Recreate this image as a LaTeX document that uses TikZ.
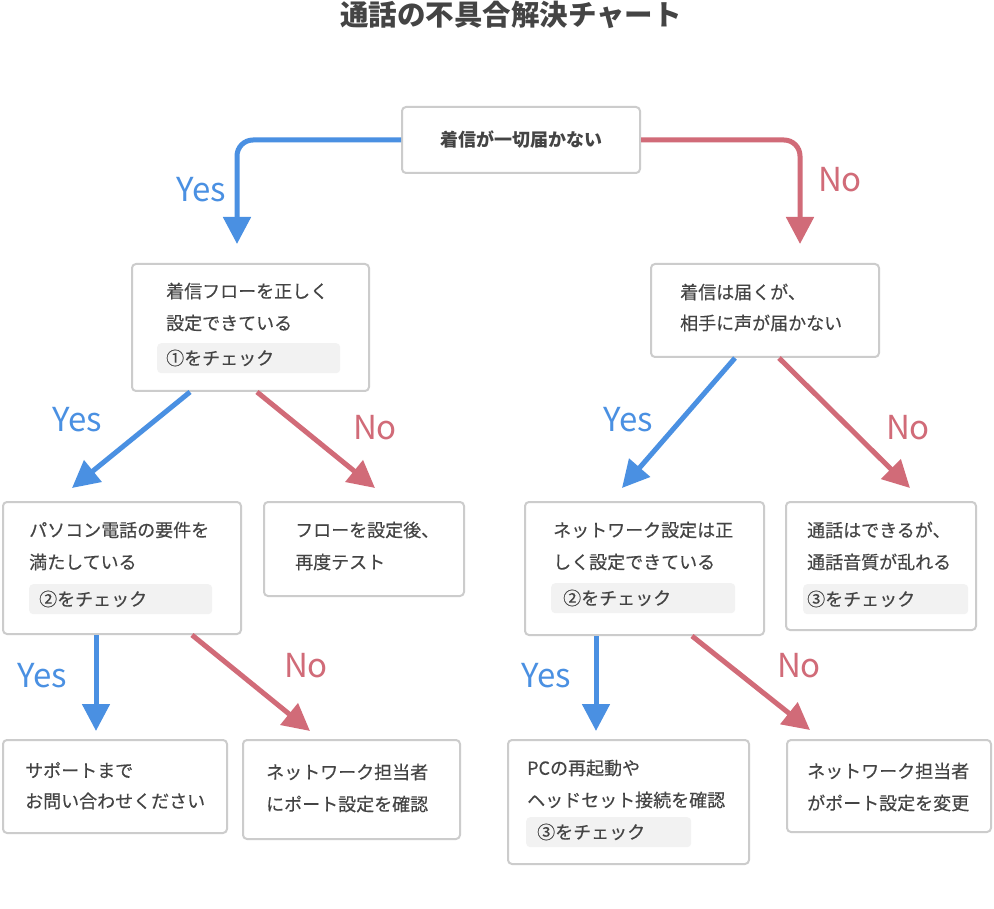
\documentclass[tikz,border=0pt]{standalone}
\usepackage{fontspec}
\setmainfont{Noto Sans CJK JP}
\newfontfamily\medfont{Noto Sans CJK JP}[FakeBold=0.35]
\usetikzlibrary{arrows.meta,calc}
\definecolor{yesc}{HTML}{4A90E2}
\definecolor{noc}{HTML}{D16B78}
\definecolor{txt}{HTML}{444444}
\definecolor{bd}{HTML}{CCCCCC}
\definecolor{chk}{HTML}{F2F2F2}
\begin{document}
\begin{tikzpicture}[x=1pt,y=-1pt,
  box/.style={draw=bd,line width=2pt,rounded corners=4pt,fill=white,inner sep=0,anchor=north west},
  chkbox/.style={fill=chk,rounded corners=4pt,inner sep=0,anchor=north west},
  tx/.style={text=txt,font=\medfont\fontsize{18}{20}\selectfont,anchor=west,inner sep=0},
  yesarr/.style={draw=yesc,line width=5pt,-{Triangle[length=27pt,width=27pt]}},
  noarr/.style={draw=noc,line width=5pt,-{Triangle[length=27pt,width=27pt]}},
  yeslab/.style={text=yesc,font=\fontsize{33}{36}\selectfont,inner sep=0},
  nolab/.style={text=noc,font=\fontsize{33}{36}\selectfont,inner sep=0}]
\useasboundingbox[fill=white] (0,0) rectangle (994,909);
% title
\node[text=txt,font=\fontsize{28.5}{32}\selectfont\bfseries,inner sep=0] (title) at (511,15) {通話の不具合解決チャート};
% boxes
\node[box,minimum width=238pt,minimum height=66pt] (top) at (401,106) {};
\node[box,minimum width=237pt,minimum height=127pt] (A) at (131,263) {};
\node[box,minimum width=228pt,minimum height=93pt] (B) at (650,263) {};
\node[box,minimum width=238pt,minimum height=132pt] (C) at (2,501) {};
\node[box,minimum width=200pt,minimum height=94pt] (D) at (263,501) {};
\node[box,minimum width=239pt,minimum height=133pt] (E) at (524,501) {};
\node[box,minimum width=190pt,minimum height=128pt] (F) at (785,501) {};
\node[box,minimum width=224pt,minimum height=93pt] (G) at (2,739) {};
\node[box,minimum width=217pt,minimum height=99pt] (H) at (242,739) {};
\node[box,minimum width=241pt,minimum height=124pt] (I) at (507,739) {};
\node[box,minimum width=204pt,minimum height=92pt] (J) at (786,739) {};
% check boxes
\node[chkbox,minimum width=183pt,minimum height=30pt] (Ac) at (157,343) {};
\node[chkbox,minimum width=183pt,minimum height=30pt] (Cc) at (29,584) {};
\node[chkbox,minimum width=184pt,minimum height=30pt] (Ec) at (551,583) {};
\node[chkbox,minimum width=165pt,minimum height=30pt] (Fc) at (803,584) {};
\node[chkbox,minimum width=165pt,minimum height=30pt] (Ic) at (526,817) {};
% texts
\node[tx,anchor=center,font=\fontsize{18}{20}\selectfont\bfseries] (t0) at (top.center) {着信が一切届かない};
\node[tx] (a1) at (166,291) {着信フローを正しく};
\node[tx] (a2) at (166,323) {設定できている};
\node[tx] (a3) at (166,358) {①をチェック};
\node[tx] (b1) at (680,292) {着信は届くが、};
\node[tx] (b2) at (680,323) {相手に声が届かない};
\node[tx] (c1) at (29,530) {パソコン電話の要件を};
\node[tx] (c2) at (29,562) {満たしている};
\node[tx] (c3) at (39,599) {②をチェック};
\node[tx] (d1) at (295,530) {フローを設定後、};
\node[tx] (d2) at (295,562) {再度テスト};
\node[tx] (e1) at (553,530) {ネットワーク設定は正};
\node[tx] (e2) at (553,562) {しく設定できている};
\node[tx] (e3) at (563,598) {②をチェック};
\node[tx] (f1) at (807,530) {通話はできるが、};
\node[tx] (f2) at (807,562) {通話音質が乱れる};
\node[tx] (f3) at (807,599) {③をチェック};
\node[tx] (g1) at (25,770) {サポートまで};
\node[tx] (g2) at (25,801) {お問い合わせください};
\node[tx] (h1) at (266,772) {ネットワーク担当者};
\node[tx] (h2) at (266,804) {にポート設定を確認};
\node[tx] (i1) at (527,768) {PCの再起動や};
\node[tx] (i2) at (527,800) {ヘッドセット接続を確認};
\node[tx] (i3) at (537,832) {③をチェック};
\node[tx] (j1) at (807,771) {ネットワーク担当者};
\node[tx] (j2) at (807,803) {がポート設定を変更};
% arrow tips
\coordinate (tYes0) at (237,244);
\coordinate (tNo0) at (800,244);
\coordinate (tAC) at (72,488);
\coordinate (tAD) at (375,488);
\coordinate (tCG) at (96,731);
\coordinate (tCH) at (310,731);
\coordinate (tBE) at (622,488);
\coordinate (tBF) at (910,488);
\coordinate (tEI) at (596,731);
\coordinate (tEJ) at (810,730);
% connectors
\draw[yesarr,rounded corners=16pt] (top.west) -- (tYes0 |- top.west) -- (tYes0);
\draw[noarr,rounded corners=16pt] (top.east) -- (tNo0 |- top.east) -- (tNo0);
\draw[yesarr] ([xshift=59pt]A.south west) -- (tAC);
\draw[noarr] ([xshift=126pt]A.south west) -- (tAD);
\draw[yesarr] ([xshift=94pt]C.south west) -- (tCG);
\draw[noarr] ([xshift=190pt]C.south west) -- (tCH);
\draw[yesarr] ([xshift=85pt]B.south west) -- (tBE);
\draw[noarr] ([xshift=129pt]B.south west) -- (tBF);
\draw[yesarr] ([xshift=72pt]E.south west) -- (tEI);
\draw[noarr] ([xshift=168pt]E.south west) -- (tEJ);
% labels
\node[yeslab] (l1) at (201,190) {Yes};
\node[nolab] (l2) at (840,180) {No};
\node[yeslab] (l3) at (77,420) {Yes};
\node[nolab] (l4) at (375,428) {No};
\node[yeslab] (l5) at (42,676) {Yes};
\node[nolab] (l6) at (306,666) {No};
\node[yeslab] (l7) at (628,420) {Yes};
\node[nolab] (l8) at (908,428) {No};
\node[yeslab] (l9) at (546,676) {Yes};
\node[nolab] (l10) at (799,666) {No};
\end{tikzpicture}
\end{document}
